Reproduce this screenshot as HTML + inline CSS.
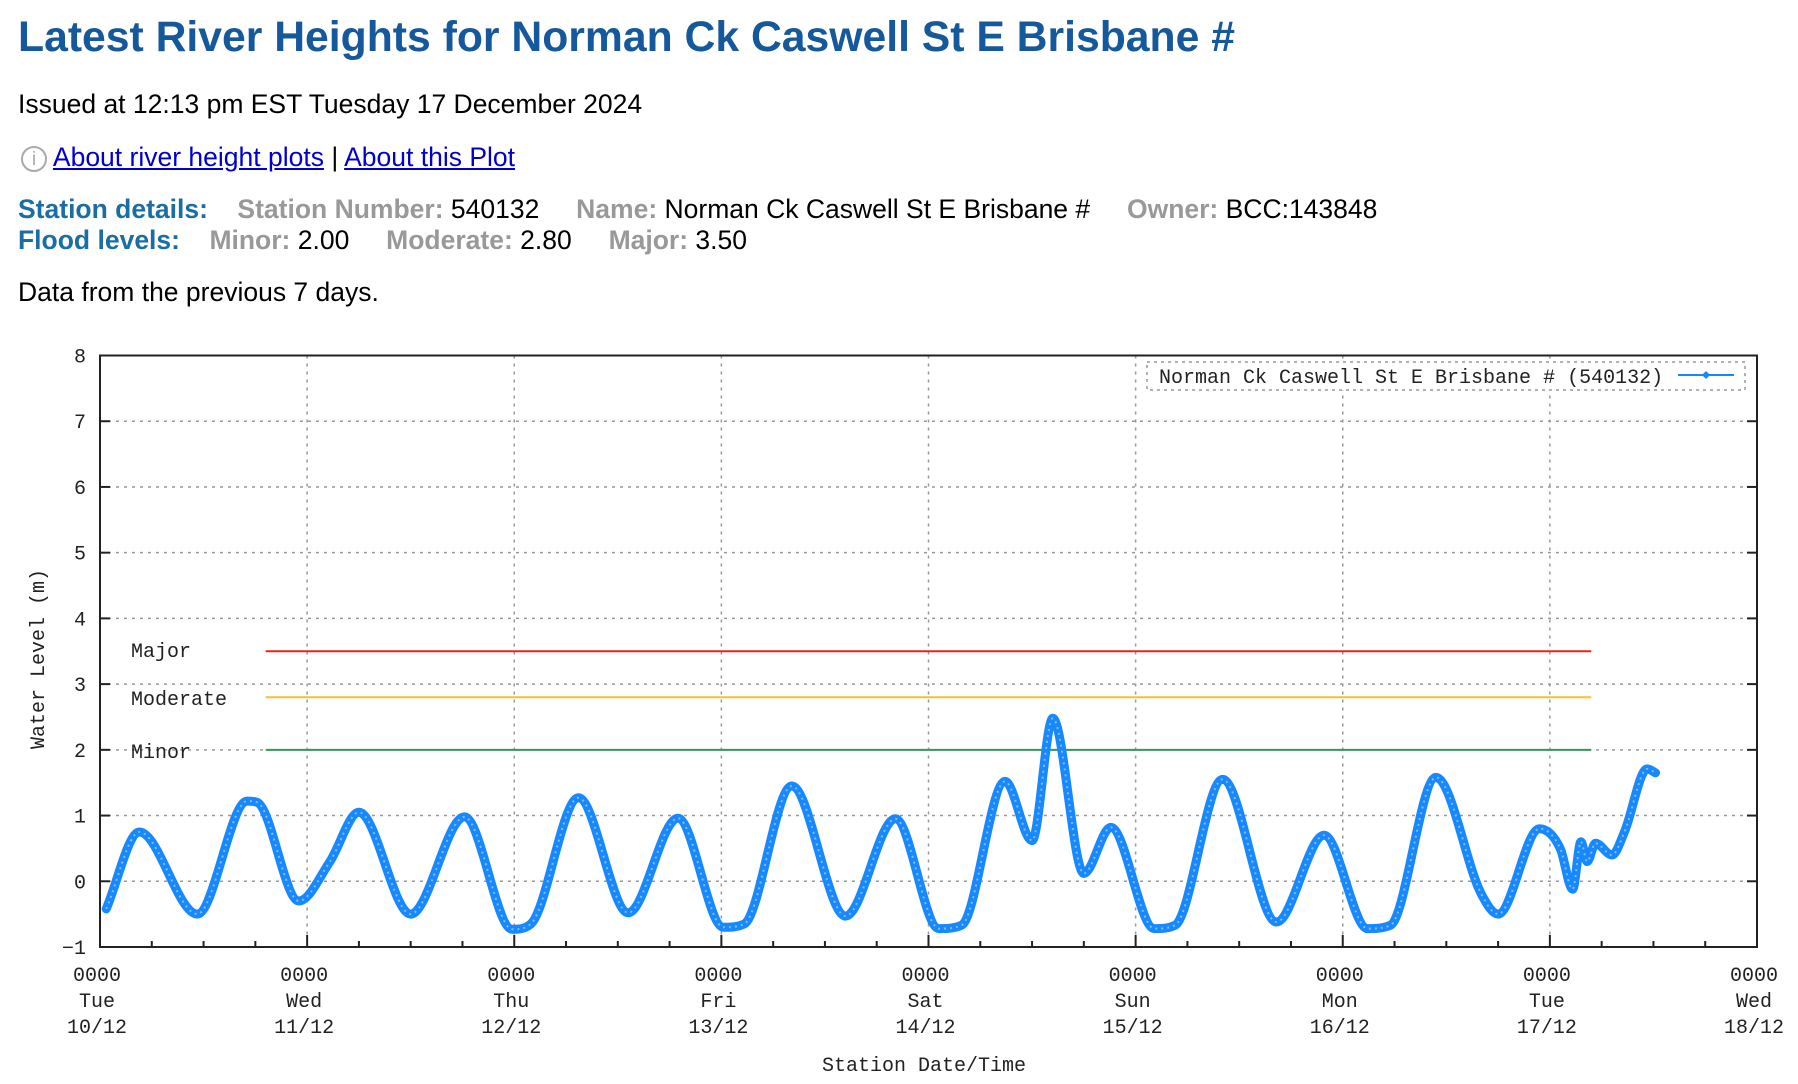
<!DOCTYPE html>
<html><head><meta charset="utf-8"><style>
body{margin:0;width:1798px;height:1084px;background:#fff;font-family:"Liberation Sans",Arial,sans-serif;position:relative;overflow:hidden}
.t{position:absolute;white-space:nowrap}
h1{position:absolute;left:18px;top:13px;margin:0;font-size:42.7px;font-weight:bold;color:#15589b}
.lbl{color:#1a6ea3;font-weight:bold}
.g{color:#999;font-weight:bold}
a{color:#0000cc}
svg text{font-family:"Liberation Mono","DejaVu Sans Mono",monospace;font-size:20px;fill:#222}
</style></head><body>
<h1>Latest River Heights for Norman Ck Caswell St E Brisbane #</h1>
<div class="t" style="left:18px;top:89px;font-size:26.5px">Issued at 12:13 pm EST Tuesday 17 December 2024</div>
<div class="t" style="left:21px;top:142px;font-size:26.5px">
<span style="display:inline-block;width:26px;height:26px;border:2px solid #aaa;border-radius:50%;color:#aaa;font-size:19px;text-align:center;line-height:24px;vertical-align:middle;box-sizing:border-box">i</span>
<a href="#">About river height plots</a> | <a href="#">About this Plot</a></div>
<div class="t" style="left:18px;top:194px;font-size:26.5px"><span class="lbl">Station details:</span>&nbsp;&nbsp;&nbsp; <span class="g">Station Number:</span> 540132 &nbsp;&nbsp;&nbsp; <span class="g">Name:</span> Norman Ck Caswell St E Brisbane # &nbsp;&nbsp;&nbsp; <span class="g">Owner:</span> BCC:143848</div>
<div class="t" style="left:18px;top:225px;font-size:26.5px"><span class="lbl">Flood levels:</span>&nbsp;&nbsp;&nbsp; <span class="g">Minor:</span> 2.00 &nbsp;&nbsp;&nbsp; <span class="g">Moderate:</span> 2.80 &nbsp;&nbsp;&nbsp; <span class="g">Major:</span> 3.50</div>
<div class="t" style="left:18px;top:277px;font-size:26.5px">Data from the previous 7 days.</div>
<svg id="chart" width="1798" height="1084" style="position:absolute;left:0;top:0"></svg>
<script>
const days=[0.03,0.19,0.47,0.71,0.76,0.96,1.11,1.25,1.50,1.76,1.99,2.08,2.31,2.55,2.79,3.01,3.11,3.34,3.60,3.84,4.05,4.16,4.37,4.50,4.60,4.75,4.88,5.09,5.19,5.42,5.68,5.91,6.12,6.23,6.45,6.67,6.75,6.95,7.05,7.11,7.15,7.18,7.22,7.30,7.36,7.47,7.51];
const levels=[-0.42,0.75,-0.5,1.22,1.2,-0.3,0.3,1.05,-0.5,0.98,-0.73,-0.65,1.27,-0.48,0.96,-0.7,-0.65,1.45,-0.53,0.95,-0.72,-0.67,1.52,0.62,2.48,0.12,0.82,-0.72,-0.67,1.55,-0.62,0.7,-0.72,-0.67,1.58,-0.2,-0.5,0.8,0.5,-0.12,0.6,0.3,0.58,0.4,0.75,1.71,1.65];
const yTicks=[-1,0,1,2,3,4,5,6,7,8];
const dayNames=["Tue","Wed","Thu","Fri","Sat","Sun","Mon","Tue","Wed"];
const dates=["10/12","11/12","12/12","13/12","14/12","15/12","16/12","17/12","18/12"];
const floodNames=["Major","Moderate","Minor"];
const floodValues=[3.5,2.8,2.0];
const floodColors=["#e8231f","#f5c12e","#2e9a5a"];
const L=100,R=1757,T=355.5,B=947;
const xs=d=>L+(R-L)*d/8;
const ys=v=>B-(B-T)*(v+1)/9;
const svg=document.getElementById('chart');
const NS='http://www.w3.org/2000/svg';
function mk(tag,attrs,parent){const e=document.createElementNS(NS,tag);for(const k in attrs)e.setAttribute(k,attrs[k]);(parent||svg).appendChild(e);return e;}
yTicks.forEach(v=>{
 if(v>-1&&v<8){const g=mk('line',{x1:L,x2:R,y1:ys(v),y2:ys(v),stroke:'#999','stroke-dasharray':'3,5','stroke-width':1.5});
 
 }
 const t=mk('text',{x:86,y:ys(v)+7,'text-anchor':'end'});t.textContent=v===-1?'\u22121':v;
 
 
 mk('line',{x1:L,x2:L+10,y1:ys(v),y2:ys(v),stroke:'#222','stroke-width':2});
 mk('line',{x1:R,x2:R-10,y1:ys(v),y2:ys(v),stroke:'#222','stroke-width':2});
});
dayNames.forEach((n,i)=>{
 const x=xs(i);
 if(i>0&&i<8){const g=mk('line',{x1:x,x2:x,y1:T,y2:B,stroke:'#999','stroke-dasharray':'3,5','stroke-width':1.5});
 
 }
 mk('line',{x1:x,x2:x,y1:B,y2:B-12,stroke:'#222','stroke-width':2});
 const t=mk('text',{x:x-3,y:981,'text-anchor':'middle'});t.textContent='0000';
 
 
 const t2=mk('text',{x:x-3,y:1007,'text-anchor':'middle'});t2.textContent=n;
 
 
 const t3=mk('text',{x:x-3,y:1033,'text-anchor':'middle'});t3.textContent=dates[i];
 
 
});
for(let q=1;q<32;q++){if(q%4===0)continue;const x=xs(q/4);mk('line',{x1:x,x2:x,y1:B,y2:B-6,stroke:'#222','stroke-width':2});}
const fr=mk('rect',{x:L,y:T,width:R-L,height:B-T,fill:'none',stroke:'#222','stroke-width':2});


const labelY=[657,705,758];
floodNames.forEach((n,i)=>{
 const y=ys(floodValues[i]);
 const l=mk('line',{x1:xs(0.8),x2:xs(7.2),y1:y,y2:y,stroke:floodColors[i],'stroke-width':2});
 
 
 const t=mk('text',{x:131,y:labelY[i]});t.textContent=n;
 
 
});
// monotone cubic (Fritsch-Carlson)
const P=days.map((d,i)=>[xs(d),ys(levels[i])]);
const n=P.length,dl=[],m=[];
for(let i=0;i<n-1;i++)dl.push((P[i+1][1]-P[i][1])/(P[i+1][0]-P[i][0]));
for(let i=0;i<n;i++){
 if(i===0)m.push(dl[0]);else if(i===n-1)m.push(dl[n-2]);
 else m.push(dl[i-1]*dl[i]<=0?0:(dl[i-1]+dl[i])/2);
}
for(let i=0;i<n-1;i++){
 if(dl[i]===0){m[i]=0;m[i+1]=0;continue;}
 const a=m[i]/dl[i],b=m[i+1]/dl[i],s=a*a+b*b;
 if(s>9){const t=3/Math.sqrt(s);m[i]=t*a*dl[i];m[i+1]=t*b*dl[i];}
}
let d='M'+P[0][0].toFixed(1)+','+P[0][1].toFixed(1);
for(let i=0;i<n-1;i++){const h=(P[i+1][0]-P[i][0])/3;
 d+=' C'+(P[i][0]+h).toFixed(1)+','+(P[i][1]+m[i]*h).toFixed(1)+' '+(P[i+1][0]-h).toFixed(1)+','+(P[i+1][1]-m[i+1]*h).toFixed(1)+' '+P[i+1][0].toFixed(1)+','+P[i+1][1].toFixed(1);}
const s=mk('path',{d:d,fill:'none',stroke:'#1888ff','stroke-width':9,'stroke-linejoin':'round','stroke-linecap':'round'});


const s2=mk('path',{d:d,fill:'none',stroke:'#7cc0ff','stroke-width':2,'stroke-dasharray':'2,4'});


const lg=mk('rect',{x:1147,y:362,width:598,height:28,fill:'#fff',stroke:'#999','stroke-dasharray':'3,4','stroke-width':1.5});


const lt=mk('text',{x:1147,y:383,'text-anchor':'start'});lt.textContent='\u00a0Norman Ck Caswell St  E Brisbane # (540132)';lt.setAttribute('xml:space','preserve');


mk('line',{x1:1678,x2:1734,y1:375,y2:375,stroke:'#1888ff','stroke-width':2});
mk('path',{d:'M1706,371 L1710,375 L1706,379 L1702,375Z',fill:'#1888ff'});
const yt=mk('text',{transform:'translate(44,659) rotate(-90)','text-anchor':'middle'});yt.textContent='Water Level (m)';


const xt=mk('text',{x:924,y:1071,'text-anchor':'middle'});xt.textContent='Station Date/Time';


</script>
</body></html>
